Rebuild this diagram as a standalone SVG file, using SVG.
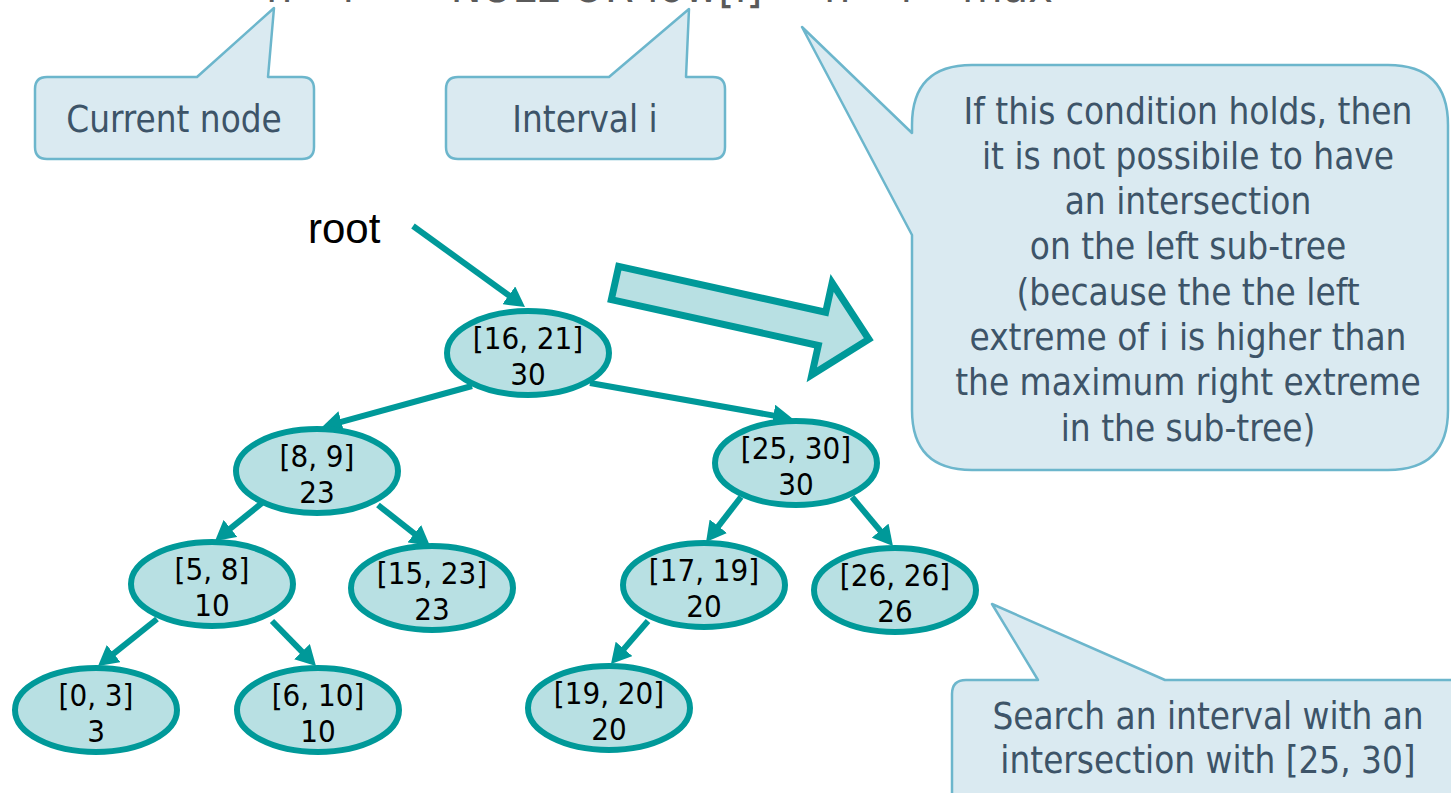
<svg xmlns="http://www.w3.org/2000/svg" width="1451" height="793" viewBox="0 0 1451 793">
  <defs>
    <marker id="head" viewBox="-2 -11 20 22" markerWidth="20" markerHeight="22" refX="0" refY="0" markerUnits="userSpaceOnUse" orient="auto">
      <path d="M-2,-11 L18,0 L-2,11 Z" fill="#009999"/>
    </marker>
    <style>
      .call { fill: #daeaf1; stroke: #6cb6cc; stroke-width: 2.5; stroke-linejoin: round; }
      .ctext { font-family: "DejaVu Sans Condensed", "DejaVu Sans", sans-serif; font-size: 36.5px; fill: #3d5468; text-anchor: middle; }
      .big { font-size: 36.6px; }
      .node ellipse { fill: #b8e0e3; stroke: #009999; stroke-width: 6; }
      .node text { font-family: "DejaVu Sans Condensed", "DejaVu Sans", sans-serif; font-size: 31px; fill: #000; text-anchor: middle; }
      .edge { stroke: #009999; stroke-width: 6; fill: none; marker-end: url(#head); }
      .code { font-family: "DejaVu Sans", sans-serif; font-size: 46px; fill: #5a5a5a; }
    </style>
  </defs>

  <rect width="1451" height="793" fill="#fff"/>

  <!-- condition line, partly above the top edge -->
  <text class="code" x="266" y="2" textLength="787" lengthAdjust="spacingAndGlyphs">n-&gt;l == NULL OR low[i] &gt; n-&gt;l-&gt;max</text>

  <!-- callouts -->
  <g id="callout-current">
    <path class="call" d="M47,77 H197 L274,8 L268,77 H302 Q314,77 314,89 V147 Q314,159 302,159 H47 Q35,159 35,147 V89 Q35,77 47,77 Z"/>
    <text class="ctext" x="174" y="132">Current node</text>
  </g>
  <g id="callout-interval">
    <path class="call" d="M458,77 H609 L689,9 L686,77 H713 Q725,77 725,89 V147 Q725,159 713,159 H458 Q446,159 446,147 V89 Q446,77 458,77 Z"/>
    <text class="ctext" x="585" y="132">Interval i</text>
  </g>
  <g id="callout-condition">
    <path class="call" d="M972,65 H1388 Q1448,65 1448,125 V410 Q1448,470 1388,470 H972 Q912,470 912,410 V235 L802,27 L912,133 V125 Q912,65 972,65 Z"/>
    <text class="ctext big" x="1188" y="124">If this condition holds, then</text>
    <text class="ctext big" x="1188" y="169">it is not possibile to have</text>
    <text class="ctext big" x="1188" y="214">an intersection</text>
    <text class="ctext big" x="1188" y="259">on the left sub-tree</text>
    <text class="ctext big" x="1188" y="305">(because the the left</text>
    <text class="ctext big" x="1188" y="350">extreme of i is higher than</text>
    <text class="ctext big" x="1188" y="395">the maximum right extreme</text>
    <text class="ctext big" x="1188" y="441">in the sub-tree)</text>
  </g>
  <g id="callout-search">
    <path class="call" d="M966,680 H1038 L992,604 L1165,680 H1460 V800 H952 V694 Q952,680 966,680 Z"/>
    <text class="ctext" x="1208" y="729">Search an interval with an</text>
    <text class="ctext" x="1208" y="773">intersection with [25, 30]</text>
  </g>

  <!-- block arrow pointing at the condition callout -->
  <g id="block-arrow">
    <path d="M0,-17 H212 V-47 L260,0 L212,47 V17 H0 Z" transform="translate(615,283) rotate(12.5)" fill="#b8e0e3" stroke="#009999" stroke-width="7" stroke-linejoin="miter"/>
  </g>

  <text x="308" y="243" font-family="'Liberation Sans', Arial, sans-serif" font-size="42" fill="#000">root</text>

  <!-- tree edges -->
  <g id="connectors">
    <line class="edge" x1="413" y1="226" x2="510.4" y2="296.5"/>
    <line class="edge" x1="472" y1="386" x2="339.4" y2="422.3"/>
    <line class="edge" x1="590" y1="383" x2="775.3" y2="415.9"/>
    <line class="edge" x1="262" y1="503" x2="229" y2="529.7"/>
    <line class="edge" x1="378" y1="505" x2="415.9" y2="534.9"/>
    <line class="edge" x1="741" y1="497" x2="717.1" y2="527.8"/>
    <line class="edge" x1="852" y1="497" x2="881.4" y2="532.2"/>
    <line class="edge" x1="157" y1="619" x2="112.1" y2="654.8"/>
    <line class="edge" x1="272" y1="621" x2="303.4" y2="653.1"/>
    <line class="edge" x1="648" y1="621" x2="622.7" y2="650.4"/>
  </g>

  <!-- tree nodes -->
  <g id="n16-21" class="node"><ellipse cx="528" cy="353" rx="81" ry="42"/><text x="528" y="349">[16, 21]</text><text x="528" y="385">30</text></g>
  <g id="n8-9" class="node"><ellipse cx="317" cy="471" rx="81" ry="42"/><text x="317" y="467">[8, 9]</text><text x="317" y="503">23</text></g>
  <g id="n25-30" class="node"><ellipse cx="796" cy="463" rx="81" ry="42"/><text x="796" y="459">[25, 30]</text><text x="796" y="495">30</text></g>
  <g id="n5-8" class="node"><ellipse cx="212" cy="584" rx="81" ry="42"/><text x="212" y="580">[5, 8]</text><text x="212" y="616">10</text></g>
  <g id="n15-23" class="node"><ellipse cx="432" cy="588" rx="81" ry="42"/><text x="432" y="584">[15, 23]</text><text x="432" y="620">23</text></g>
  <g id="n17-19" class="node"><ellipse cx="704" cy="585" rx="81" ry="42"/><text x="704" y="581">[17, 19]</text><text x="704" y="617">20</text></g>
  <g id="n26-26" class="node"><ellipse cx="895" cy="590" rx="81" ry="42"/><text x="895" y="586">[26, 26]</text><text x="895" y="622">26</text></g>
  <g id="n0-3" class="node"><ellipse cx="96" cy="710" rx="81" ry="42"/><text x="96" y="706">[0, 3]</text><text x="96" y="742">3</text></g>
  <g id="n6-10" class="node"><ellipse cx="318" cy="710" rx="81" ry="42"/><text x="318" y="706">[6, 10]</text><text x="318" y="742">10</text></g>
  <g id="n19-20" class="node"><ellipse cx="609" cy="708" rx="81" ry="42"/><text x="609" y="704">[19, 20]</text><text x="609" y="740">20</text></g>
</svg>
